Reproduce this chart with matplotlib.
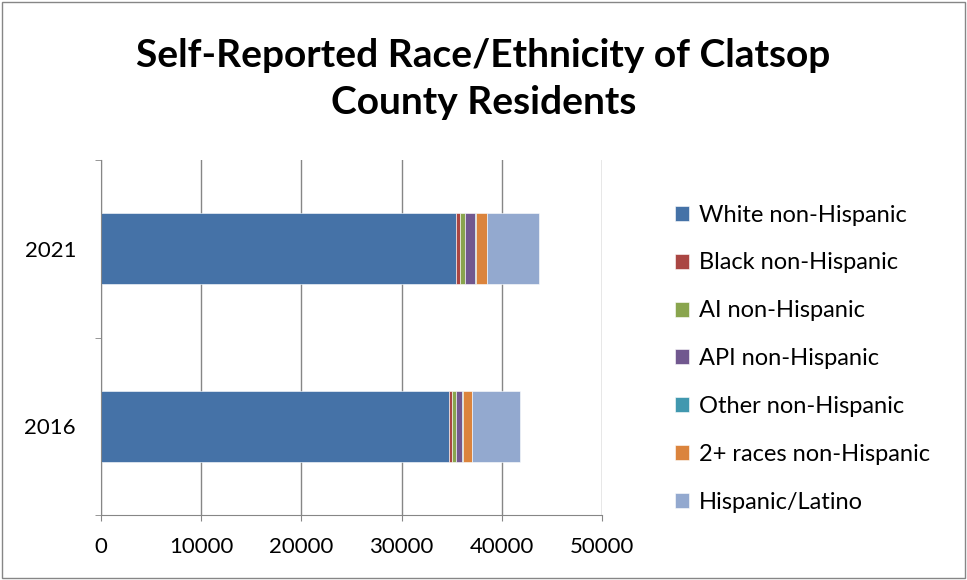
import numpy as np
import matplotlib.pyplot as plt
from matplotlib.patches import Rectangle

years = ["2016", "2021"]
groups = ["White non-Hispanic", "Black non-Hispanic", "AI non-Hispanic",
          "API non-Hispanic", "Other non-Hispanic", "2+ races non-Hispanic",
          "Hispanic/Latino"]
white = [34730, 35470]
black = [300, 360]
ai = [400, 540]
api = [600, 960]
other = [50, 60]
multi = [950, 1100]
hispanic = [4800, 5270]
series = [white, black, ai, api, other, multi, hispanic]
colors = ["#4572A7", "#AA4643", "#89A54E", "#71588F", "#4198AF", "#DB843D", "#93A9CF"]

plt.rcParams['font.family'] = ['Lato', 'DejaVu Sans']

fig = plt.figure(figsize=(9.67, 5.80), dpi=100)
fig.patches.append(Rectangle((0.002, 0.003), 0.996, 0.994, transform=fig.transFigure,
                             fill=False, edgecolor="#868686", linewidth=1))
ax = fig.add_axes([101 / 967, 1 - 515 / 580, 501 / 967, 355 / 580])

y = np.arange(len(years))
left = np.zeros(len(years))
for vals, name, c in zip(series, groups, colors):
    ax.barh(y, vals, left=left, height=0.4, color=c, label=name,
            edgecolor="white", linewidth=0.4)
    left += np.array(vals)

ax.set_xlim(0, 50000)
ax.set_ylim(-0.5, 1.5)
ax.set_xticks(np.arange(0, 50001, 10000))
ax.set_yticks(y)
ax.set_yticklabels(years)
ax.set_yticks([-0.5, 0.5, 1.5], minor=True)
ax.tick_params(axis='y', which='major', length=0, pad=18, labelsize=16)
ax.tick_params(axis='y', which='minor', length=4, color="#868686")
ax.tick_params(axis='x', length=4, color="#868686", labelsize=16, pad=12)
ax.xaxis.grid(True, color="#868686", linewidth=1)
ax.set_axisbelow(True)
for s in ["top", "right"]:
    ax.spines[s].set_visible(False)
for s in ["left", "bottom"]:
    ax.spines[s].set_color("#868686")

fig.text(0.5, 0.864, "Self-Reported Race/Ethnicity of Clatsop\nCounty Residents",
         ha="center", va="center", fontsize=28, fontweight="bold", linespacing=1.4)

handles, labels = ax.get_legend_handles_labels()
fig.legend(handles, labels, loc="upper left", bbox_to_anchor=(0.676, 0.684),
           frameon=False, fontsize=17, handlelength=0.6, handleheight=0.6,
           handletextpad=0.4, labelspacing=1.14)

fig.savefig("out.png", dpi=100)
